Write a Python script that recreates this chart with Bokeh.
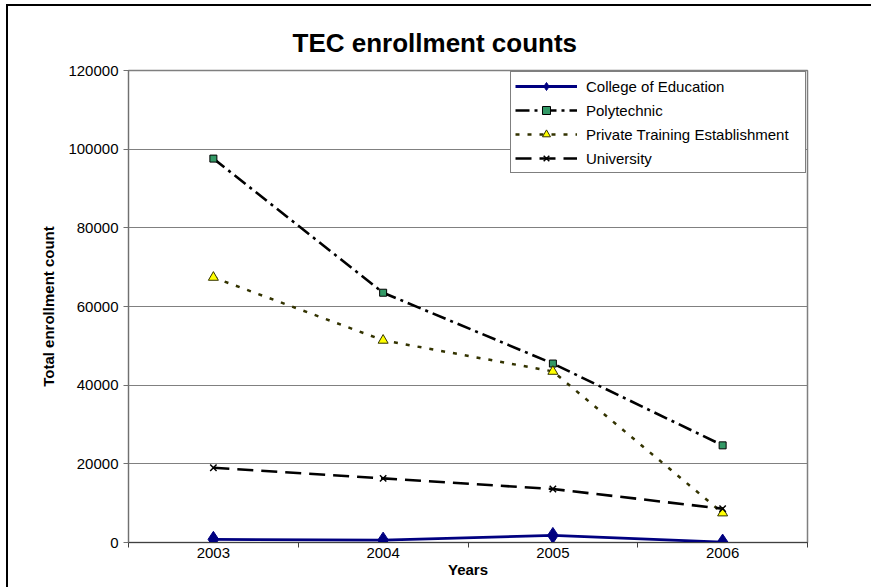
from bokeh.plotting import figure
from bokeh.models import (FixedTicker, Legend, LegendItem, Range1d,
                          PrintfTickFormatter, InlineStyleSheet)
from bokeh.embed import file_html
from bokeh.resources import INLINE

# ---- data ----
years = ["2003", "2004", "2005", "2006"]
college = [800, 600, 1800, 100]
polytechnic = [97600, 63500, 45500, 24700]
private_te = [67400, 51400, 43500, 7500]
university = [19000, 16300, 13600, 8600]
y_ticks = [0, 20000, 40000, 60000, 80000, 100000, 120000]

FONT = "Liberation Sans"
W, H = 871, 587

xs = [i + 1 for i in range(len(years))]

p = figure(width=W, height=H, output_backend="svg", toolbar_location=None,
           x_range=Range1d(0.5, len(years) + 0.5), y_range=Range1d(0, 120000),
           min_border_left=128, min_border_right=64, min_border_top=70,
           min_border_bottom=45)
p.background_fill_color = "white"
p.border_fill_color = "white"
p.outline_line_color = "#7f7f7f"
p.outline_line_width = 1.5

# outer chart border (drawn with CSS, it does not change the layout)
p.stylesheets = [InlineStyleSheet(css="""
:host { overflow: hidden; }
:host::after { content: ""; position: absolute; left: 6px; top: 4px;
  width: 2000px; height: 2000px; border: 2px solid black; pointer-events: none; }
""")]

# title
p.title.text = "TEC enrollment counts"
p.title.text_font = FONT
p.title.text_font_size = "26px"
p.title.text_font_style = "bold"
p.title.text_color = "black"
p.title.align = "left"
p.title.offset = 164
p.title.standoff = 26

# grid
p.xgrid.visible = False
p.ygrid.ticker = FixedTicker(ticks=y_ticks)
p.ygrid.grid_line_color = "#808080"
p.ygrid.grid_line_width = 1

# y axis
ya = p.yaxis[0]
ya.ticker = FixedTicker(ticks=y_ticks, minor_ticks=[])
ya.formatter = PrintfTickFormatter(format="%d")
ya.major_tick_out = 5
ya.major_tick_in = 0
ya.minor_tick_out = 0
ya.minor_tick_in = 0
ya.axis_line_color = "#707070"
ya.major_tick_line_color = "#707070"
ya.major_label_text_font = FONT
ya.major_label_text_font_size = "15px"
ya.major_label_text_color = "black"
ya.major_label_standoff = 5
ya.axis_label = "Total enrollment count"
ya.axis_label_text_font = FONT
ya.axis_label_text_font_size = "15px"
ya.axis_label_text_font_style = "bold"
ya.axis_label_text_color = "black"
ya.axis_label_standoff = 8

# x axis (labels at category centres, ticks at category boundaries)
xa = p.xaxis[0]
xa.ticker = FixedTicker(ticks=xs, minor_ticks=[x - 0.5 for x in xs] + [xs[-1] + 0.5])
xa.major_label_overrides = {x: y for x, y in zip(xs, years)}
xa.major_tick_out = 0
xa.major_tick_in = 0
xa.minor_tick_out = 5
xa.minor_tick_in = 0
xa.axis_line_color = "#404040"
xa.minor_tick_line_color = "#404040"
xa.major_label_text_font = FONT
xa.major_label_text_font_size = "15px"
xa.major_label_text_color = "black"
xa.major_label_standoff = 0
xa.axis_label = "Years"
xa.axis_label_text_font = FONT
xa.axis_label_text_font_size = "15px"
xa.axis_label_text_font_style = "bold"
xa.axis_label_text_color = "black"
xa.axis_label_standoff = 0

# lines
l_col = p.line(xs, college, line_color="#000080", line_width=2.8)
l_pol = p.line(xs, polytechnic, line_color="black", line_width=2.6, line_dash="14 5 3 5")
l_pte = p.line(xs, private_te, line_color="#333300", line_width=2.5, line_dash="4 8")
l_uni = p.line(xs, university, line_color="black", line_width=2.6, line_dash="16 8")

# markers
m_col = p.scatter(xs, college, marker="diamond", size=16,
                  fill_color="#000080", line_color="#000080", line_width=1)
m_pol = p.scatter(xs, polytechnic, marker="square", size=7,
                  fill_color="#339966", line_color="black", line_width=1)
m_pte = p.scatter(xs, private_te, marker="triangle", size=10,
                  fill_color="#FFFF00", line_color="#333300", line_width=1)
m_uni = p.scatter(xs, university, marker="x", size=9,
                  line_color="black", line_width=1.5)

legend = Legend(items=[
    LegendItem(label="College of Education", renderers=[l_col, m_col]),
    LegendItem(label="Polytechnic", renderers=[l_pol, m_pol]),
    LegendItem(label="Private Training Establishment", renderers=[l_pte, m_pte]),
    LegendItem(label="University", renderers=[l_uni, m_uni]),
], location="top_right")
legend.margin = 1
legend.padding = 4
legend.spacing = 4
legend.label_height = 20
legend.glyph_height = 20
legend.glyph_width = 62
legend.label_standoff = 9
legend.label_width = 215
legend.label_text_font = FONT
legend.label_text_font_size = "15px"
legend.label_text_color = "black"
legend.border_line_color = "black"
legend.border_line_width = 1
legend.background_fill_color = "white"
legend.background_fill_alpha = 1
p.add_layout(legend)

open("out.html", "w").write(file_html(p, INLINE))
